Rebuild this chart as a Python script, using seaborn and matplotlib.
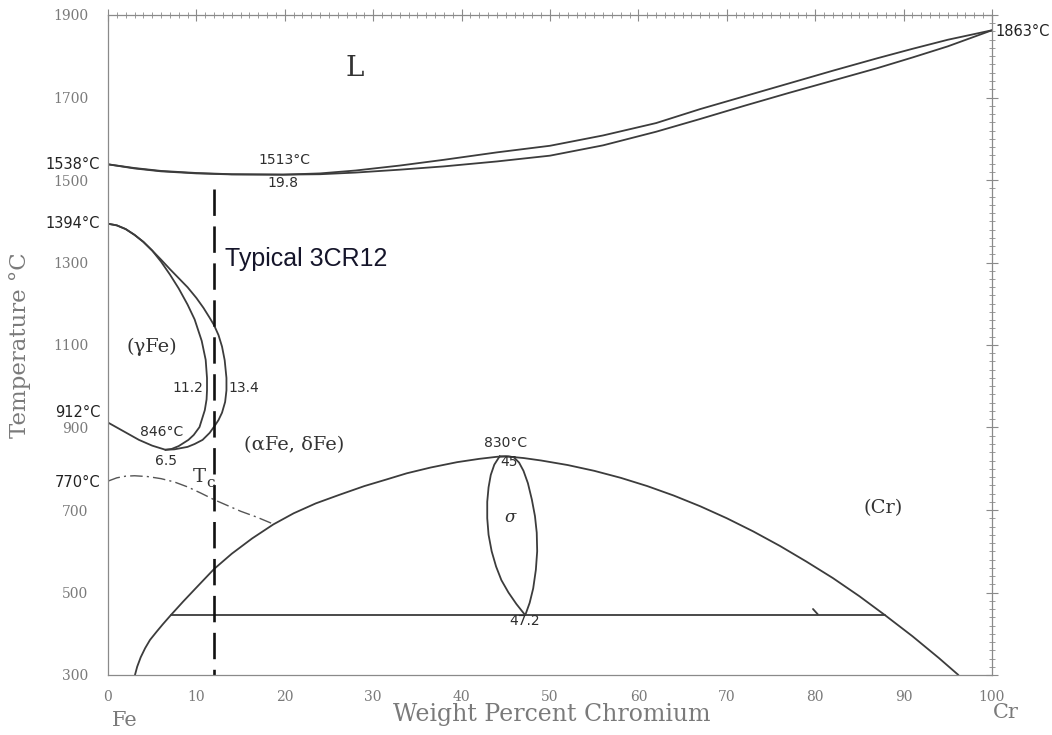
import numpy as np
import pandas as pd
import matplotlib
matplotlib.use("Agg")
import matplotlib.pyplot as plt
import seaborn as sns

# ---------------- Fe-Cr equilibrium diagram data ----------------
# liquidus / solidus (wt% Cr, deg C)
melt_x = [0, 3, 6, 10, 14, 19.8, 24, 28, 33, 38, 44, 50, 56, 62, 67, 72, 77, 82, 87, 91, 95, 100]
liquidus_t = [1538, 1529, 1522, 1517, 1514, 1513, 1516, 1523, 1535, 1549, 1567, 1583,
              1608, 1638, 1672, 1703, 1734, 1765, 1795, 1818, 1840, 1863]
solidus_t = [1538, 1528, 1521, 1516, 1513.5, 1513, 1514, 1518, 1525, 1533, 1545, 1559,
             1584, 1617, 1648, 1680, 1711, 1741, 1771, 1797, 1824, 1863]

# gamma loop: gamma / (alpha+gamma) boundary
gamma_in_x = [0, 1, 2, 3, 4, 5, 6, 7, 8, 9, 9.8, 10.6, 11.05, 11.2, 11.2, 11.15, 10.95,
              10.35, 9.7, 9.1, 8.0, 7.2, 6.5]
gamma_in_t = [1394, 1390, 1381, 1367, 1350, 1329, 1302, 1271, 1237, 1198, 1162, 1110, 1064,
              1020, 990, 968, 942, 901, 882, 870, 855, 848, 846]
# gamma loop: (alpha+gamma) / alpha boundary
gamma_out_x = [0, 1, 2, 3, 4, 5, 6, 7, 8, 9, 10, 10.8, 11.5, 12.0, 12.5, 12.9, 13.2, 13.4,
               13.4, 13.25, 12.9, 12.5, 12.1, 11.5, 10.7, 9.8, 9.0, 7.5, 6.5]
gamma_out_t = [1394, 1390, 1381, 1367, 1350, 1329, 1307, 1284, 1262, 1240, 1214, 1190, 1166,
               1148, 1124, 1096, 1063, 1020, 990, 962, 936, 918, 905, 887, 870, 860, 853,
               847, 846]
# low-temperature branch from 912 C to the 846 C minimum
gamma_low_x = [0, 1, 2, 3.5, 5, 6.5]
gamma_low_t = [912, 900, 888, 870, 856, 846]

# Curie temperature (magnetic transition)
curie_x = [0, 1, 2, 3, 4.5, 6, 7.5, 9, 10.5, 12, 13.5, 15, 16.8, 18.7]
curie_t = [770, 778, 782, 783, 781, 776, 768, 756, 741, 725, 711, 697, 683, 666]

# alpha / (alpha + sigma) dome
dome_x = [3.05, 3.3, 3.7, 4.2, 4.75, 5.5, 6.2, 7.1, 8.5, 10, 12, 14, 16.3, 18.7, 21, 23.5,
          26.2, 29, 31.5, 33.8, 36.5, 39.5, 42, 44, 45, 47, 49, 52, 55, 58, 61, 64, 67, 70,
          73, 76, 79, 82, 85, 87.9, 91, 94, 96.2]
dome_t = [300, 320, 343, 365, 385, 405, 423, 445, 478, 512, 557, 594, 631, 665, 692, 716,
          737, 758, 774, 789, 803, 816, 824, 829, 830, 826, 820, 809, 795, 778, 758, 735, 709,
          680, 648, 613, 575, 535, 491, 445, 394, 341, 300]

# sigma phase field (closed lens)
sigma_x = [44.3, 43.7, 43.3, 43.05, 42.9, 42.9, 43.05, 43.4, 43.9, 44.5, 45.3, 46.2, 47.2,
           47.7, 48.1, 48.4, 48.55, 48.5, 48.3, 47.95, 47.5, 47.0, 46.5, 45.9, 45.3, 44.3]
sigma_t = [830, 810, 785, 755, 720, 680, 640, 600, 563, 530, 500, 472, 445,
           475, 510, 555, 600, 645, 685, 725, 765, 795, 815, 828, 830, 830]

# isotherm below the sigma field
iso_x = [7.1, 87.9]
iso_t = [445, 445]
# short tie mark on the isotherm
tie_x = [79.75, 80.3]
tie_t = [460, 447]

# composition of a typical 3CR12 steel
alloy_x = [12, 12]
alloy_t = [1478, 300]

x_ticks = [0, 10, 20, 30, 40, 50, 60, 70, 80, 90, 100]
y_ticks = [300, 500, 700, 900, 1100, 1300, 1500, 1700, 1900]

# ---------------- figure ----------------
sns.set_style("white")
plt.rcParams["font.family"] = ["DejaVu Serif"]

W, H = 1052, 735
fig = plt.figure(figsize=(W / 100, H / 100), dpi=100)
ax = fig.add_axes([108 / W, 1 - 675 / H, 884 / W, 660 / H])

line_col = "#3c3c3c"
lw = 1.3


def curve(xs, ts, **kw):
    sns.lineplot(x=xs, y=ts, sort=False, estimator=None, ax=ax, color=line_col,
                 linewidth=lw, solid_joinstyle="round", **kw)


curve(melt_x, liquidus_t)
curve(melt_x, solidus_t)
curve(gamma_in_x, gamma_in_t)
curve(gamma_out_x, gamma_out_t)
curve(gamma_low_x, gamma_low_t)
curve(dome_x, dome_t)
curve(sigma_x, sigma_t)
curve(iso_x, iso_t)
curve(tie_x, tie_t)

ax.plot(curie_x, curie_t, color="#555555", linewidth=1.0,
        linestyle=(0, (9, 3, 1.5, 3)))
ax.plot(alloy_x, alloy_t, color="#111111", linewidth=1.9,
        linestyle=(0, (10, 4)))

ax.set_xlim(0, 100)
ax.set_ylim(300, 1900)
ax.set_xticks(x_ticks)
ax.set_yticks(y_ticks)
ax.set_xticks(np.arange(0, 101, 1), minor=True)
ax.set_yticks(np.arange(300, 1901, 20), minor=True)

tick_col = "#8a8a8a"
ax.tick_params(which="major", direction="inout", length=9, width=0.8, color=tick_col,
               top=True, right=True, labelsize=10, labelcolor="#7a7a7a")
ax.tick_params(which="minor", direction="inout", length=4, width=0.6, color=tick_col,
               top=True, right=True)
ax.tick_params(axis="x", which="major", pad=6)
ax.tick_params(axis="y", which="major", pad=9.5)
for sp in ax.spines.values():
    sp.set_color(tick_col)
    sp.set_linewidth(0.9)
ax.set_xlabel("")
ax.set_ylabel("")


def fx(px):
    return px / W


def fy(py):
    return 1 - py / H


axis_col = "#7a7a7a"
fig.text(fx(552), fy(715), "Weight Percent Chromium", ha="center", va="center",
         fontsize=17, color=axis_col)
fig.text(fx(20), fy(345), "Temperature °C", ha="center", va="center", rotation=90,
         fontsize=16.5, color=axis_col)
fig.text(fx(125), fy(721), "Fe", ha="center", va="center", fontsize=15, color=axis_col)
fig.text(fx(1006), fy(712), "Cr", ha="center", va="center", fontsize=15, color=axis_col)

# ---------------- annotations ----------------
ann_col = "#2e2e2e"
sans = ["DejaVu Sans"]

for t, s in [(1538, "1538°C"), (1394, "1394°C"), (937, "912°C"), (767, "770°C")]:
    ax.text(-0.9, t, s, ha="right", va="center", fontsize=10.5, color="#222222",
            family=sans, clip_on=False)
ax.text(100.4, 1860, "1863°C", ha="left", va="center", fontsize=10.5, color="#222222",
        family=sans, clip_on=False)

ax.text(27.9, 1771, "L", ha="center", va="center", fontsize=20, color="#333333")
ax.text(20.0, 1548, "1513°C", ha="center", va="center", fontsize=10, color=ann_col, family=sans)
ax.text(19.8, 1493, "19.8", ha="center", va="center", fontsize=10, color=ann_col, family=sans)

ax.text(4.9, 1095, "(γFe)", ha="center", va="center", fontsize=14, color="#333333")
ax.text(9.05, 996, "11.2", ha="center", va="center", fontsize=10, color=ann_col, family=sans)
ax.text(15.4, 996, "13.4", ha="center", va="center", fontsize=10, color=ann_col, family=sans)
ax.text(6.1, 889, "846°C", ha="center", va="center", fontsize=10, color=ann_col, family=sans)
ax.text(6.6, 819, "6.5", ha="center", va="center", fontsize=10, color=ann_col, family=sans)
ax.text(21.0, 858, "(αFe, δFe)", ha="center", va="center", fontsize=14, color="#333333")
ax.text(10.3, 780, "T", ha="center", va="center", fontsize=14, color="#333333")
ax.text(11.6, 765, "c", ha="center", va="center", fontsize=11, color="#333333")

ax.text(45.0, 862, "830°C", ha="center", va="center", fontsize=10, color=ann_col, family=sans)
ax.text(45.4, 816, "45", ha="center", va="center", fontsize=10, color=ann_col, family=sans)
ax.text(45.5, 683, "σ", ha="center", va="center", fontsize=12, style="italic",
        color=ann_col)
ax.text(47.1, 431, "47.2", ha="center", va="center", fontsize=10, color=ann_col, family=sans)
ax.text(87.7, 705, "(Cr)", ha="center", va="center", fontsize=14, color="#333333")

ax.text(13.2, 1309, "Typical 3CR12", ha="left", va="center", fontsize=18,
        color="#15152a", family=["Liberation Sans"])

fig.savefig("out.png", dpi=100, facecolor="white")
